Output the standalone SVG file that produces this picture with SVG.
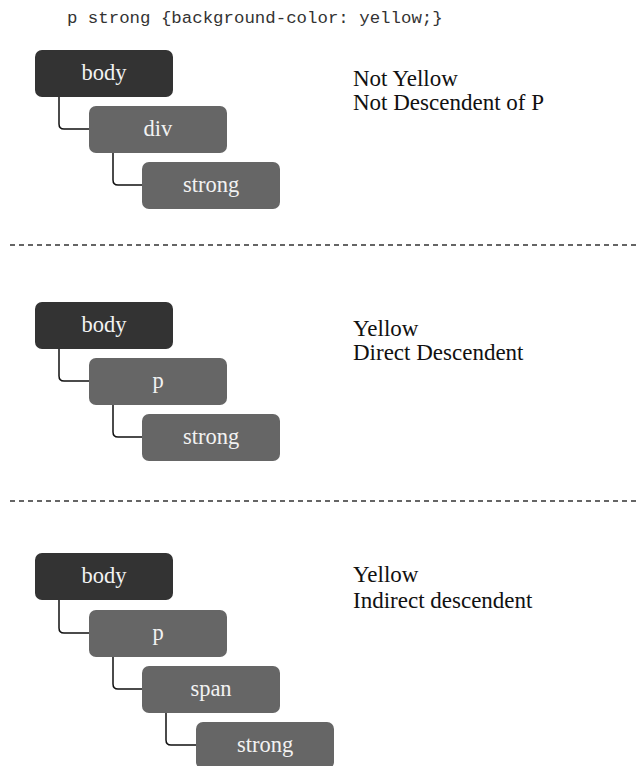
<svg xmlns="http://www.w3.org/2000/svg" width="638" height="766" viewBox="0 0 638 766">
<style>
.bg{fill:#ffffff}
.title{font-family:"Liberation Mono","Courier New",monospace;font-size:17.4px;fill:#333333}
.dark rect{fill:#333333}
.mid rect{fill:#666666}
.node text{font-family:'Liberation Serif','DejaVu Serif',serif;font-size:22.5px;fill:#f2f2f2;text-anchor:middle}
.lbl{font-family:'Liberation Serif','DejaVu Serif',serif;font-size:23px;fill:#111111}
.conn path{fill:none;stroke:#111111;stroke-width:1.5}
.sep{stroke:#333333;stroke-width:1.3;stroke-dasharray:5 4}
</style>
<rect class="bg" x="0" y="0" width="638" height="766"/>
<text class="title" x="67" y="23">p strong {background-color: yellow;}</text>

<g id="connectors" class="conn">
  <path d="M59,96 V124 Q59,129 64,129 H89"/>
  <path d="M113,153 V180 Q113,185 118,185 H142"/>
  <path d="M59,349 V376 Q59,381 64,381 H89"/>
  <path d="M113,405 V432 Q113,437 118,437 H142"/>
  <path d="M59,600 V628 Q59,633 64,633 H89"/>
  <path d="M113,657 V684 Q113,689 118,689 H142"/>
  <path d="M166,713 V740 Q166,745 171,745 H196"/>
</g>

<line class="sep" x1="10" y1="245" x2="638" y2="245"/>
<line class="sep" x1="10" y1="501" x2="638" y2="501"/>

<!-- Section 1 -->
<g id="s1-body" class="node dark"><rect x="35" y="50" width="138" height="47" rx="7"/><text x="104" y="80">body</text></g>
<g id="s1-div" class="node mid"><rect x="89" y="106" width="138" height="47" rx="7"/><text x="158" y="136">div</text></g>
<g id="s1-strong" class="node mid"><rect x="142" y="162" width="138" height="47" rx="7"/><text x="211" y="192">strong</text></g>
<g id="s1-label">
  <text class="lbl" x="353" y="86">Not Yellow</text>
  <text class="lbl" x="353" y="110">Not Descendent of P</text>
</g>

<!-- Section 2 -->
<g id="s2-body" class="node dark"><rect x="35" y="302" width="138" height="47" rx="7"/><text x="104" y="332">body</text></g>
<g id="s2-p" class="node mid"><rect x="89" y="358" width="138" height="47" rx="7"/><text x="158" y="388">p</text></g>
<g id="s2-strong" class="node mid"><rect x="142" y="414" width="138" height="47" rx="7"/><text x="211" y="444">strong</text></g>
<g id="s2-label">
  <text class="lbl" x="353" y="336">Yellow</text>
  <text class="lbl" x="353" y="360">Direct Descendent</text>
</g>

<!-- Section 3 -->
<g id="s3-body" class="node dark"><rect x="35" y="553" width="138" height="47" rx="7"/><text x="104" y="583">body</text></g>
<g id="s3-p" class="node mid"><rect x="89" y="610" width="138" height="47" rx="7"/><text x="158" y="640">p</text></g>
<g id="s3-span" class="node mid"><rect x="142" y="666" width="138" height="47" rx="7"/><text x="211" y="696">span</text></g>
<g id="s3-strong" class="node mid"><rect x="196" y="722" width="138" height="47" rx="7"/><text x="265" y="752">strong</text></g>
<g id="s3-label">
  <text class="lbl" x="353" y="582">Yellow</text>
  <text class="lbl" x="353" y="608">Indirect descendent</text>
</g>
</svg>
